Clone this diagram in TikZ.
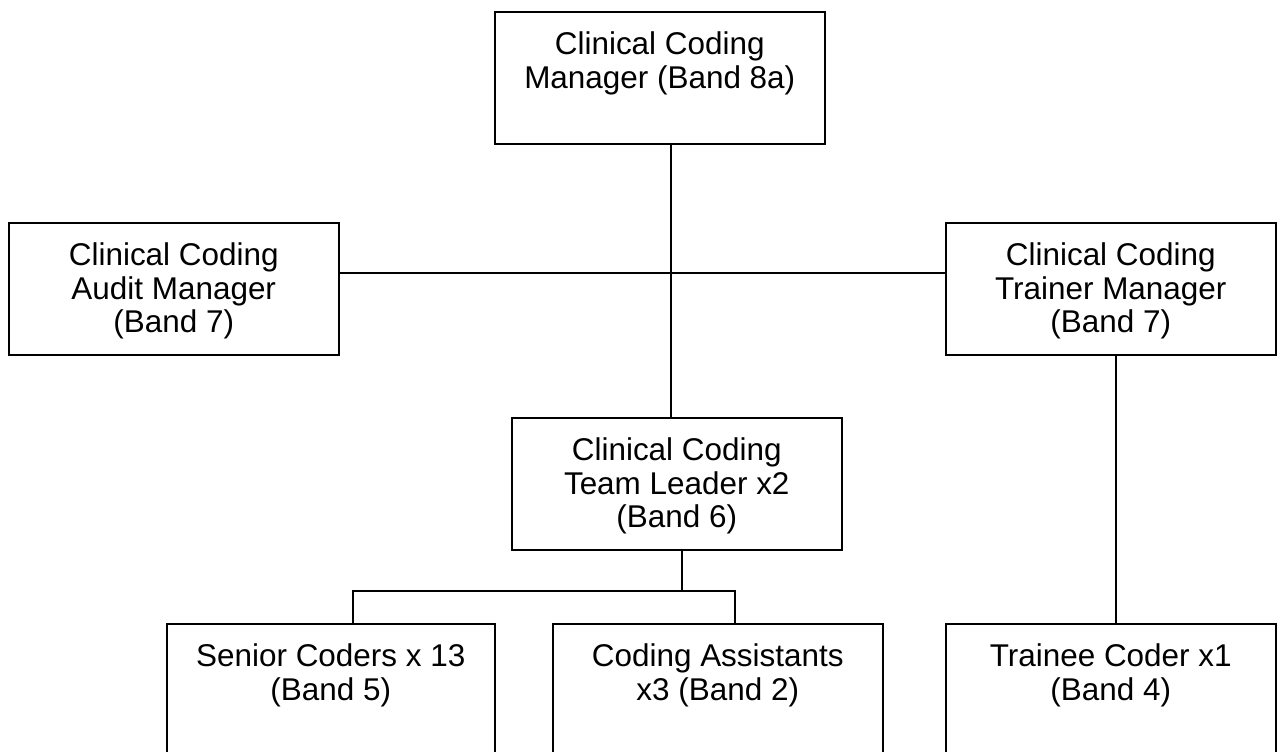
\documentclass[tikz,border=0pt]{standalone}
\usepackage{fontspec}
\setmainfont{Liberation Sans}
\usetikzlibrary{positioning}

\begin{document}
\begin{tikzpicture}[x=0.02cm, y=-0.02cm, node distance=4mm,
  every node/.style={font=\fontsize{17.9}{19.3}\selectfont},
  post/.style={draw, rectangle, line width=0.9pt, minimum width=6.6cm, minimum height=2.65cm, anchor=north west, inner sep=0pt},
  title/.style={align=center, inner sep=0pt},
  link/.style={line width=0.7pt}]
  \clip (0,0) rectangle (1280,751);
  \fill[white] (0,0) rectangle (1280,751);
  % boxes, placed by their top left corner (in pixels)
  \node[post] (mgr) at (494,11) {};
  \node[post] (audit) at (8,222) {};
  \node[post] (trainer) at (945,222) {};
  \node[post] (lead) at (511,417) {};
  \node[post, minimum width=6.56cm, minimum height=3.2cm] (senior) at (166,623) {};
  \node[post, minimum height=3.2cm] (assist) at (552,623) {};
  \node[post, minimum height=3.2cm] (trainee) at (945,623) {};
  % titles
  \node[title, below=of mgr.north] (mgr-t) {Clinical Coding\\Manager (Band 8a)};
  \node[title, below=of audit.north] (audit-t) {Clinical Coding\\Audit Manager\\(Band 7)};
  \node[title, below=of trainer.north] (trainer-t) {Clinical Coding\\Trainer Manager\\(Band 7)};
  \node[title, below=of lead.north] (lead-t) {Clinical Coding\\Team Leader x2\\(Band 6)};
  \node[title, below=of senior.north] (senior-t) {Senior Coders x 13\\(Band 5)};
  \node[title, below=of assist.north] (assist-t) {Coding Assistants\\x3 (Band 2)};
  \node[title, below=of trainee.north] (trainee-t) {Trainee Coder x1\\(Band 4)};
  % lines
  \coordinate (spine) at (671,273);
  \coordinate (fork) at (682,591);
  \coordinate (forkl) at (353,591);
  \coordinate (forkr) at (735,591);
  \coordinate (drop) at (1116,0);
  \draw[link] (mgr.south -| spine) -- (lead.north -| spine);
  \draw[link] (audit.east |- spine) -- (trainer.west |- spine);
  \draw[link] (lead.south -| fork) -- (fork);
  \draw[link] (senior.north -| forkl) -- (forkl) -- (forkr) -- (assist.north -| forkr);
  \draw[link] (trainer.south -| drop) -- (trainee.north -| drop);
\end{tikzpicture}
\end{document}
